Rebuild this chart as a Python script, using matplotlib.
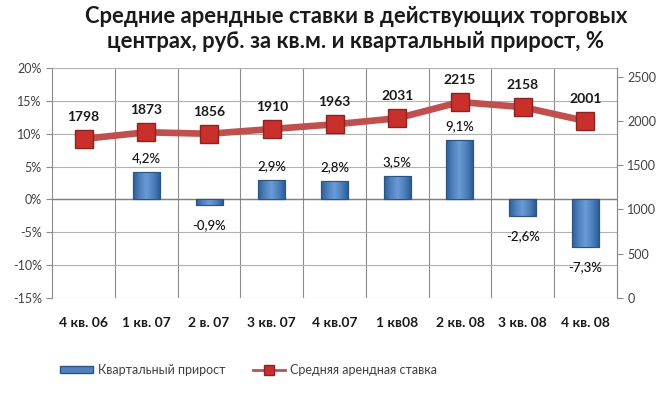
#!/usr/bin/env python

import matplotlib
matplotlib.use("Agg")
import matplotlib.pyplot as plt
import numpy as np
from matplotlib.ticker import FuncFormatter

FONT = ["Lato", "DejaVu Sans"]
plt.rcParams["font.family"] = FONT

quarters = ["4 кв. 06", "1 кв. 07", "2 в. 07", "3 кв. 07", "4 кв.07",
            "1 кв08", "2 кв. 08", "3 кв. 08", "4 кв. 08"]
growth = [np.nan, 4.2, -0.9, 2.9, 2.8, 3.5, 9.1, -2.6, -7.3]
rent = [1798, 1873, 1856, 1910, 1963, 2031, 2215, 2158, 2001]

title = "Средние арендные ставки в действующих торговых\nцентрах, руб. за кв.м. и квартальный прирост, %"
bar_label = "Квартальный прирост"
line_label = "Средняя арендная ставка"

BLUE = "#4F81BD"
RED = "#C0504D"
GRID = "#8C8C8C"


def pct(v, pos):
    return "%d%%" % v


def main():
    fig = plt.figure(figsize=(6.69, 3.93), dpi=100)
    ax = fig.add_axes([0.078, 0.242, 0.844, 0.585])
    x = np.arange(len(quarters))

    ax.set_xlim(-0.5, len(quarters) - 0.5)
    ax.set_ylim(-15, 20)
    ax.set_yticks(np.arange(-15, 21, 5))
    ax.yaxis.set_major_formatter(FuncFormatter(pct))
    ax.set_axisbelow(True)
    ax.grid(axis="y", color="#B0B0B0", lw=0.8)
    for b in np.arange(0.5, len(quarters) - 0.5, 1):
        ax.axvline(b, color=GRID, lw=0.8, zorder=0.5)
    ax.axhline(0, color="#7F7F7F", lw=1, zorder=1)

    bars = ax.bar(x, growth, width=0.43, color=BLUE, edgecolor="#2C5480", lw=0.8, zorder=2)
    # simple bevel look: horizontal gradient clipped to each bar
    grad = np.linspace(0, 1, 64)
    grad = 1 - np.abs(grad - 0.5) * 2
    grad = np.vstack([grad, grad])
    cmap = matplotlib.colors.LinearSegmentedColormap.from_list("b", ["#2D5E9A", "#4F81BD", "#6A9AD6"])
    for r, v in zip(bars, growth):
        if np.isnan(v):
            continue
        x0, y0 = r.get_x(), r.get_y()
        w, h = r.get_width(), r.get_height()
        im = ax.imshow(grad, extent=[x0, x0 + w, y0, y0 + h], cmap=cmap, aspect="auto", zorder=2.1)
        im.set_clip_path(r)
        ax.bar(x0 + w / 2, h, bottom=y0, width=w, fill=False, edgecolor="#2C5480", lw=0.8, zorder=2.2)
        off = 10 if v > 0 else -14
        ax.annotate(("%.1f%%" % v).replace(".", ","), (x0 + w / 2, v), xytext=(0, off),
                    textcoords="offset points", ha="center", va="center",
                    fontsize=9.5, fontweight="medium", color="#111111")

    ax.set_xticks(x)
    ax.set_xticklabels(quarters, fontsize=10, fontweight="bold")
    ax.tick_params(axis="x", length=0, pad=14)
    ax.tick_params(axis="y", labelsize=9, colors="#404040", length=4, color=GRID)
    for lab in ax.get_xticklabels():
        lab.set_color("#1A1A1A")
    for s in ["top", "bottom"]:
        ax.spines[s].set_visible(False)
    ax.spines["left"].set_color(GRID)
    ax.spines["right"].set_color(GRID)

    ax2 = ax.twinx()
    ax2.set_ylim(0, 2600)
    ax2.set_yticks(np.arange(0, 2501, 500))
    ax2.tick_params(axis="y", labelsize=9, colors="#404040", length=4, color=GRID)
    for s in ["top", "bottom", "left"]:
        ax2.spines[s].set_visible(False)
    ax2.spines["right"].set_color(GRID)
    ax2.plot(x, rent, color=RED, lw=4.8, marker="s", markersize=13,
             markerfacecolor="#C9302C", markeredgecolor="#8B2323", markeredgewidth=1, zorder=3)
    for xi, v in zip(x, rent):
        ax2.annotate(str(v), (xi, v), xytext=(0, 16), textcoords="offset points",
                     ha="center", va="center", fontsize=10, fontweight="bold", color="#1A1A1A")

    fig.text(0.532, 0.927, title, ha="center", va="center", fontsize=15.8,
             fontweight="bold", linespacing=1.25, color="#1A1A1A")

    h1 = matplotlib.patches.Patch(facecolor=BLUE, edgecolor="#2C5480")
    h2 = matplotlib.lines.Line2D([], [], color=RED, lw=2, marker="s", markersize=7,
                                 markerfacecolor="#C9302C", markeredgecolor="#8B2323")
    fig.legend([h1, h2], [bar_label, line_label], loc="center", bbox_to_anchor=(0.372, 0.058),
               ncol=2, frameon=False, fontsize=9, handlelength=2.6, handleheight=0.5,
               columnspacing=2.2, handletextpad=0.4, labelcolor="#404040")

    fig.savefig("out.png", dpi=100)
    plt.close(fig)


if __name__ == "__main__":
    main()
